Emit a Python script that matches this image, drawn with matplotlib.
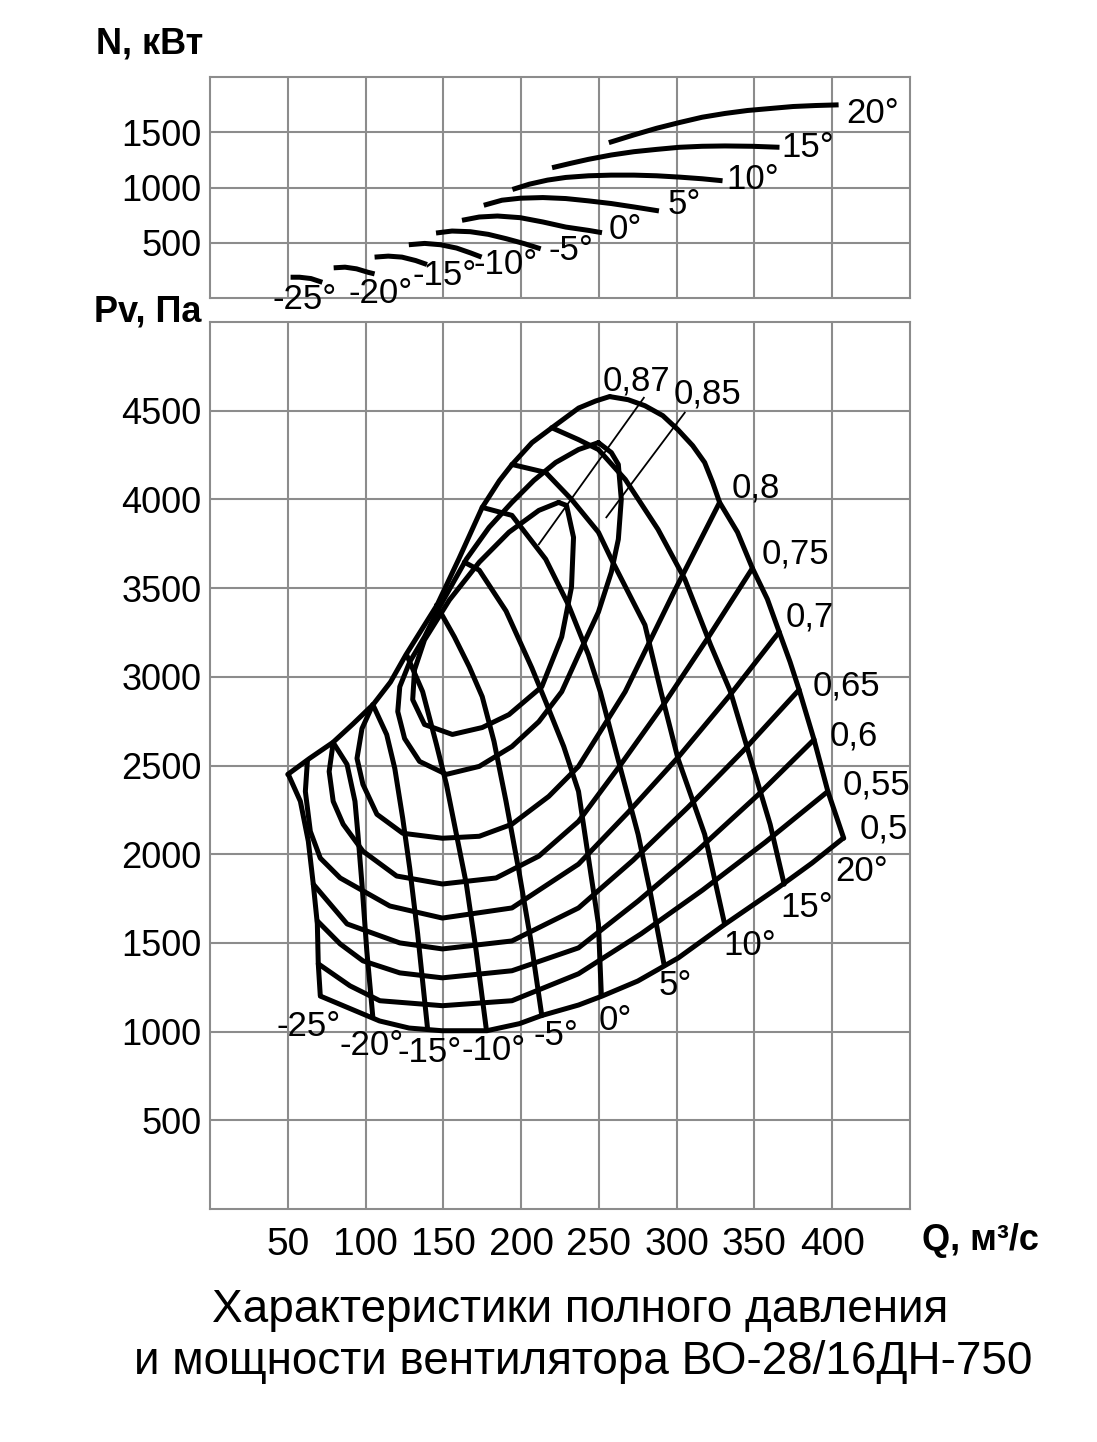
import matplotlib
matplotlib.use("Agg")
import matplotlib.pyplot as plt

plt.rcParams['font.family'] = ['Liberation Sans', 'DejaVu Sans']

# ---------------- axes ticks ----------------
q_ticks = [50, 100, 150, 200, 250, 300, 350, 400]
p_ticks = [500, 1000, 1500, 2000, 2500, 3000, 3500, 4000, 4500]
n_ticks = [500, 1000, 1500]

# ---------------- upper chart: power N (kW) vs Q for blade angles ----------------
pw_labels = ['-25°', '-20°', '-15°', '-10°', '-5°', '0°', '5°', '10°', '15°', '20°']
pw_m25_q = [51.8, 57.6, 64.9, 72.2]
pw_m25_n = [188, 188, 176, 142]
pw_m20_q = [79.5, 86.8, 94.2, 101.5, 105.8]
pw_m20_n = [273, 279, 264, 233, 218]
pw_m15_q = [105.8, 114.6, 123.4, 132.2, 139.5]
pw_m15_n = [370, 379, 370, 339, 303]
pw_m10_q = [127.8, 138.0, 148.2, 158.5, 167.3, 174.6]
pw_m10_n = [482, 494, 482, 452, 409, 370]
pw_m5_q = [145.3, 155.6, 167.3, 178.9, 190.6, 202.3, 212.6]
pw_m5_n = [588, 606, 600, 576, 536, 491, 445]
pw_0_q = [162.0, 173.1, 184.8, 199.4, 214.0, 228.7, 243.3, 252.0]
pw_0_n = [703, 733, 742, 727, 688, 642, 612, 591]
pw_5_q = [176.0, 187.7, 199.4, 214.0, 228.7, 243.3, 257.9, 272.5, 288.6]
pw_5_n = [839, 885, 903, 909, 900, 879, 855, 824, 788]
pw_10_q = [194.4, 205.3, 217.0, 228.7, 243.3, 257.9, 272.5, 287.1, 301.8, 316.4, 329.5]
pw_10_n = [982, 1030, 1067, 1091, 1106, 1112, 1112, 1106, 1094, 1079, 1061]
pw_15_q = [219.9, 231.6, 243.3, 257.9, 272.5, 287.1, 301.8, 316.4, 331.0, 348.5, 366.1]
pw_15_n = [1179, 1218, 1255, 1294, 1324, 1345, 1364, 1373, 1376, 1373, 1364]
pw_20_q = [256.4, 272.5, 287.1, 301.8, 316.4, 331.0, 345.6, 360.2, 374.9, 389.5, 404.1]
pw_20_n = [1406, 1476, 1536, 1588, 1636, 1670, 1697, 1715, 1733, 1742, 1748]
pw_label_q = [61, 110, 151, 190, 232, 267, 305, 349, 384, 426]
pw_label_n = [-15, 45, 203, 300, 430, 620, 845, 1076, 1364, 1673]

# ---------------- lower chart: total pressure Pv (Pa) vs Q ----------------
# blade-angle characteristics
pv_m25_q = [50.4, 58.1, 63.2, 66.4, 69.0, 69.6, 70.9]
pv_m25_p = [2449, 2298, 2073, 1831, 1607, 1382, 1202]
pv_m20_q = [79.2, 88.1, 93.2, 95.1, 97.7, 100.8, 104.7]
pv_m20_p = [2629, 2506, 2298, 2112, 1831, 1455, 1079]
pv_m15_q = [104.7, 113.6, 118.8, 123.9, 128.4, 133.5, 139.8]
pv_m15_p = [2843, 2674, 2483, 2202, 1921, 1551, 1022]
pv_m10_q = [126.4, 136.7, 145.6, 152.0, 158.4, 164.8, 171.1, 177.5]
pv_m10_p = [3124, 2916, 2618, 2393, 2112, 1831, 1455, 1022]
pv_m5_q = [145.6, 157.1, 166.7, 175.0, 182.6, 190.3, 198.6, 206.3, 213.3]
pv_m5_p = [3404, 3225, 3056, 2888, 2635, 2298, 1904, 1511, 1090]
pv_0_q = [163.5, 173.1, 190.3, 206.9, 215.8, 227.4, 236.9, 243.3, 249.7, 251.6]
pv_0_p = [3646, 3601, 3371, 3050, 2860, 2607, 2354, 1978, 1607, 1202]
pv_5_q = [175.0, 194.1, 215.8, 230.5, 243.3, 250.9, 264.4, 275.2, 282.9, 291.8]
pv_5_p = [3955, 3910, 3663, 3404, 3124, 2916, 2466, 2112, 1792, 1382]
pv_10_q = [194.1, 215.8, 232.4, 249.7, 258.0, 279.6, 289.9, 300.8, 318.0, 330.8]
pv_10_p = [4197, 4152, 4000, 3815, 3663, 3292, 2916, 2540, 2112, 1607]
pv_15_q = [219.7, 236.9, 249.7, 267.0, 288.0, 305.2, 321.8, 334.6, 347.4, 360.1, 369.1]
pv_15_p = [4404, 4337, 4281, 4112, 3831, 3551, 3180, 2916, 2540, 2168, 1831]
pv_20_q = [257.3, 268.8, 279.6, 291.1, 300.8, 310.3, 318.0, 323.1, 327.6, 339.1, 348.7,
           358.3, 365.9, 372.9, 378.7, 388.3, 397.2, 407.4]
pv_20_p = [4579, 4562, 4528, 4472, 4393, 4303, 4208, 4096, 3983, 3815, 3612,
           3438, 3253, 3084, 2927, 2646, 2354, 2090]
# stall boundary
stall_q = [50, 64, 79, 92, 105, 116, 126, 146, 160, 175, 186, 194, 207, 220, 237, 248, 257]
stall_p = [2450, 2540, 2630, 2735, 2845, 2970, 3125, 3405, 3665, 3955, 4105, 4195, 4320,
           4405, 4515, 4555, 4580]

# efficiency contours
eff_50_q = [71, 90, 109, 128, 149, 178, 199, 213, 237, 252, 275, 301, 331, 365, 387, 407]
eff_50_p = [1200, 1130, 1060, 1020, 1005, 1005, 1045, 1090, 1150, 1200, 1285, 1415, 1605,
            1810, 1950, 2090]
eff_55_q = [69.6, 90.0, 109.2, 149.4, 194.1, 236.9, 277.1, 316.7, 356.9, 397.2]
eff_55_p = [1382, 1258, 1174, 1146, 1174, 1326, 1551, 1798, 2067, 2354]
eff_60_q = [69.0, 83.7, 98.3, 122.0, 149.4, 194.1, 236.9, 275.2, 313.5, 351.9, 388.3]
eff_60_p = [1624, 1494, 1399, 1331, 1303, 1343, 1472, 1736, 2022, 2331, 2646]
eff_65_q = [66.4, 88.1, 122.0, 149.4, 194.1, 236.9, 272.0, 307.2, 342.9, 378.7]
eff_65_p = [1831, 1607, 1500, 1466, 1511, 1697, 1966, 2264, 2584, 2927]
eff_70_q = [62.6, 61.3, 64.5, 70.9, 83.7, 115.6, 149.4, 194.1, 236.9, 268.8, 301.4, 333.9, 365.9]
eff_70_p = [2523, 2354, 2129, 1978, 1866, 1708, 1640, 1697, 1944, 2236, 2551, 2893, 3253]
eff_75_q = [79.2, 76.6, 79.2, 85.6, 98.3, 120.0, 149.4, 183.9, 211.4, 236.9, 265.0, 292.4,
            320.5, 348.7]
eff_75_p = [2629, 2466, 2298, 2169, 2017, 1877, 1832, 1866, 1989, 2185, 2517, 2854, 3225, 3612]
eff_80_q = [104.7, 97.7, 94.5, 98.3, 107.3, 123.9, 149.4, 173.1, 194.1, 217.8, 236.9, 266.9,
            297.6, 327.6]
eff_80_p = [2843, 2708, 2540, 2394, 2225, 2118, 2090, 2101, 2169, 2326, 2495, 2916, 3466, 3983]
eff_85_q = [249.7, 258.0, 262.5, 264.4, 262.5, 258.0, 249.7, 236.9, 226.1, 211.4, 194.1, 173.1,
            152.0, 134.7, 125.1, 120.7, 122.0, 128.4, 137.9, 147.5, 164.8, 179.4, 194.1, 208.2,
            222.2, 236.9, 249.7]
eff_85_p = [4320, 4264, 4197, 4000, 3775, 3590, 3365, 3124, 2916, 2747, 2607, 2495, 2450, 2523,
            2652, 2804, 2944, 3084, 3225, 3393, 3663, 3842, 3983, 4107, 4208, 4281, 4320]
eff_87_q = [224.1, 229.2, 233.7, 232.4, 226.1, 213.3, 192.2, 175.0, 155.8, 137.9, 130.3, 131.5,
            137.9, 153.9, 173.1, 192.2, 211.4, 224.1]
eff_87_p = [3983, 3966, 3786, 3506, 3225, 2944, 2787, 2714, 2675, 2731, 2871, 3040, 3208, 3433,
            3646, 3815, 3938, 3983]
# leader lines for 0,87 and 0,85
lead_87_q = [211.4, 278.9]
lead_87_p = [3747, 4573]
lead_85_q = [254.8, 305.2]
lead_85_p = [3899, 4489]

eff_labels = ['0,87', '0,85', '0,8', '0,75', '0,7', '0,65', '0,6', '0,55', '0,5']
eff_label_q = [273.9, 319.9, 350.6, 376.1, 385.7, 409.3, 413.8, 428.5, 433.0]
eff_label_p = [4669, 4596, 4067, 3691, 3337, 2949, 2669, 2388, 2140]

ang_labels = ['-25°', '-20°', '-15°', '-10°', '-5°', '0°', '5°', '10°', '15°', '20°']
ang_label_q = [63.2, 104.1, 141.1, 182.6, 222.2, 260.5, 298.9, 346.7, 383.8, 418.9]
ang_label_p = [1028, 921, 882, 893, 978, 1062, 1258, 1483, 1702, 1904]

# ---------------- figure ----------------
W, H = 1097, 1442
fig = plt.figure(figsize=(W / 100, H / 100), dpi=100)
fig.patch.set_facecolor('white')

GRID = '#8c8c8c'
LW = 3.6


def frame(ax):
    ax.set_xlim(0, 450)
    for s in ax.spines.values():
        s.set_color(GRID)
        s.set_linewidth(1.5)
    ax.set_xticks(q_ticks)
    ax.grid(True, color=GRID, linewidth=1.5)
    ax.set_axisbelow(True)
    ax.tick_params(length=0, pad=6)
    ax.tick_params(axis='y', labelsize=26)
    ax.tick_params(axis='x', labelsize=28)


# upper axes
ax1 = fig.add_axes([210 / W, 1 - 298 / H, 700 / W, 221 / H])
frame(ax1)
ax1.set_ylim(0, 2000)
ax1.set_yticks(n_ticks)
ax1.set_yticklabels([str(v) for v in n_ticks])
ax1.tick_params(axis='x', labelbottom=False)

pw_curves = [(pw_m25_q, pw_m25_n), (pw_m20_q, pw_m20_n), (pw_m15_q, pw_m15_n),
             (pw_m10_q, pw_m10_n), (pw_m5_q, pw_m5_n), (pw_0_q, pw_0_n), (pw_5_q, pw_5_n),
             (pw_10_q, pw_10_n), (pw_15_q, pw_15_n), (pw_20_q, pw_20_n)]
for q, n in pw_curves:
    ax1.plot(q, n, color='black', lw=LW, solid_capstyle='butt', solid_joinstyle='round')
for lab, q, n in zip(pw_labels, pw_label_q, pw_label_n):
    ax1.text(q, n, lab, fontsize=25, ha='center', va='center', clip_on=False)

# lower axes
ax2 = fig.add_axes([210 / W, 1 - 1209 / H, 700 / W, 887 / H])
frame(ax2)
ax2.set_ylim(0, 5000)
ax2.set_yticks(p_ticks)
ax2.set_yticklabels([str(v) for v in p_ticks])
ax2.set_xticklabels([str(v) for v in q_ticks])
ax2.tick_params(axis='x', pad=13)

pv_curves = [(pv_m25_q, pv_m25_p), (pv_m20_q, pv_m20_p), (pv_m15_q, pv_m15_p),
             (pv_m10_q, pv_m10_p), (pv_m5_q, pv_m5_p), (pv_0_q, pv_0_p), (pv_5_q, pv_5_p),
             (pv_10_q, pv_10_p), (pv_15_q, pv_15_p), (pv_20_q, pv_20_p), (stall_q, stall_p)]
eff_curves = [(eff_50_q, eff_50_p), (eff_55_q, eff_55_p), (eff_60_q, eff_60_p),
              (eff_65_q, eff_65_p), (eff_70_q, eff_70_p), (eff_75_q, eff_75_p),
              (eff_80_q, eff_80_p), (eff_85_q, eff_85_p), (eff_87_q, eff_87_p)]
for q, p in pv_curves + eff_curves:
    ax2.plot(q, p, color='black', lw=LW, solid_capstyle='round', solid_joinstyle='round')
for q, p in [(lead_87_q, lead_87_p), (lead_85_q, lead_85_p)]:
    ax2.plot(q, p, color='black', lw=1.3)

for lab, q, p in zip(eff_labels, eff_label_q, eff_label_p):
    ax2.text(q, p, lab, fontsize=25, ha='center', va='center', clip_on=False)
for lab, q, p in zip(ang_labels, ang_label_q, ang_label_p):
    ax2.text(q, p, lab, fontsize=25, ha='center', va='center', clip_on=False)

# axis titles
fig.text(150 / W, 1 - 44 / H, 'N, кВт', fontsize=26, fontweight='bold', ha='center', va='center')
fig.text(148 / W, 1 - 312 / H, 'Pv, Па', fontsize=26, fontweight='bold', ha='center', va='center')
fig.text(980 / W, 1 - 1240 / H, 'Q, м³/с', fontsize=26, fontweight='bold', ha='center', va='center')

# caption
fig.text(580 / W, 1 - 1310 / H, 'Характеристики полного давления', fontsize=33,
         ha='center', va='center')
fig.text(583 / W, 1 - 1362 / H, 'и мощности вентилятора ВО-28/16ДН-750', fontsize=33,
         ha='center', va='center')

fig.savefig('out.png', dpi=100, facecolor='white')
